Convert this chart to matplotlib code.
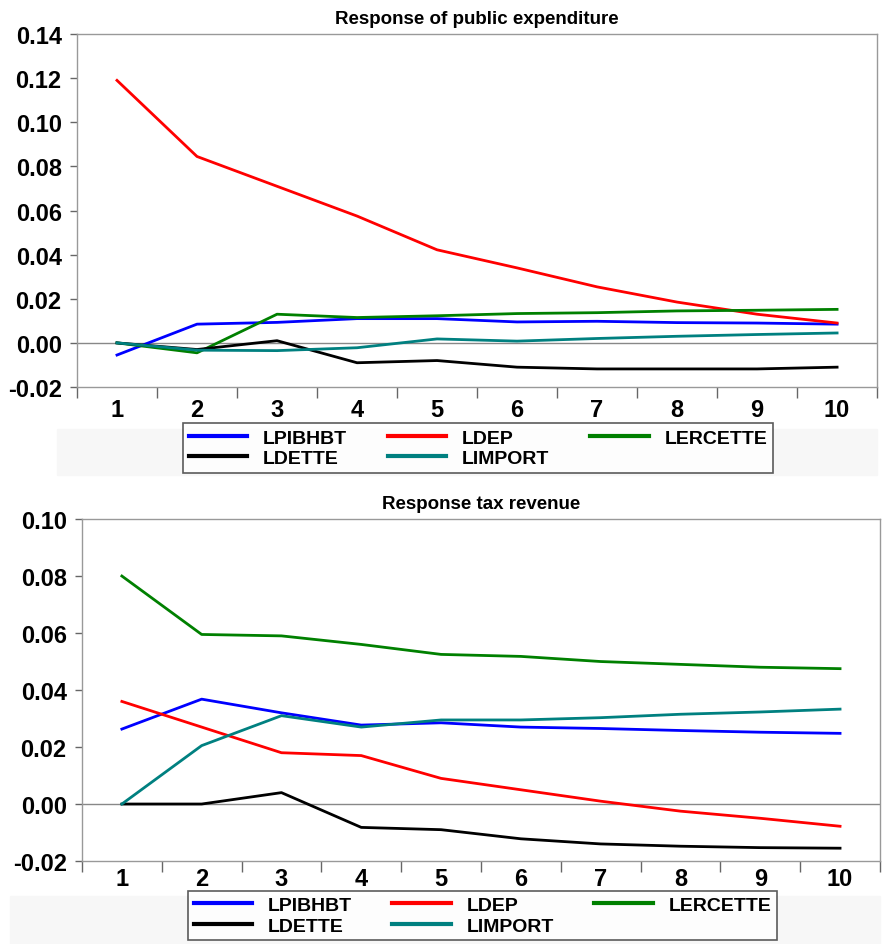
import matplotlib.pyplot as plt
from matplotlib.patches import Rectangle
from matplotlib.font_manager import findfont, FontProperties

periods = [1, 2, 3, 4, 5, 6, 7, 8, 9, 10]
names = ["LPIBHBT", "LDEP", "LERCETTE", "LDETTE", "LIMPORT"]
colors = ["#0000ff", "#ff0000", "#008000", "#000000", "#008080"]

# Response of public expenditure
exp_lpibhbt = [-0.0055, 0.0085, 0.0093, 0.011, 0.011, 0.0095, 0.0098, 0.0092, 0.009, 0.0085]
exp_ldep = [0.119, 0.0845, 0.071, 0.0575, 0.0422, 0.034, 0.0254, 0.0185, 0.013, 0.009]
exp_lercette = [0.0, -0.0045, 0.013, 0.0115, 0.0123, 0.0133, 0.0137, 0.0145, 0.0148, 0.0152]
exp_ldette = [0.0, -0.003, 0.001, -0.009, -0.008, -0.011, -0.0118, -0.0118, -0.0118, -0.011]
exp_limport = [0.0, -0.0033, -0.0035, -0.0022, 0.0018, 0.0008, 0.002, 0.003, 0.0038, 0.0045]

# Response tax revenue
tax_lpibhbt = [0.0263, 0.0368, 0.032, 0.0277, 0.0285, 0.027, 0.0265, 0.0258, 0.0252, 0.0248]
tax_ldep = [0.036, 0.027, 0.018, 0.017, 0.009, 0.005, 0.001, -0.0025, -0.005, -0.0078]
tax_lercette = [0.080, 0.0595, 0.059, 0.056, 0.0525, 0.0518, 0.050, 0.049, 0.048, 0.0475]
tax_ldette = [0.0, 0.0, 0.004, -0.0082, -0.009, -0.0122, -0.014, -0.0148, -0.0153, -0.0155]
tax_limport = [0.0, 0.0205, 0.031, 0.027, 0.0295, 0.0295, 0.0303, 0.0315, 0.0323, 0.0333]

exp_ticks = [-0.02, 0.00, 0.02, 0.04, 0.06, 0.08, 0.10, 0.12, 0.14]
tax_ticks = [-0.02, 0.00, 0.02, 0.04, 0.06, 0.08, 0.10]

# narrow bold font like the original, if available
fam = "Liberation Sans Narrow"
if "Narrow" not in findfont(FontProperties(family=fam)):
    fam = "Liberation Sans"
plt.rcParams["font.family"] = [fam, "DejaVu Sans"]
plt.rcParams["font.weight"] = "bold"

fig = plt.figure(figsize=(8.91, 9.45), dpi=100)


def draw_panel(rect, series, yticks, title, legend_rect, strip_rect, xpad):
    ax = fig.add_axes(rect)
    ax.axhline(0, color="#888888", lw=1.0, zorder=1)
    for vals, name, c in zip(series, names, colors):
        ax.plot(periods, vals, color=c, lw=2.0, label=name, zorder=3)
    ax.set_xlim(0.5, 10.5)
    ax.set_ylim(yticks[0], yticks[-1])
    ax.set_yticks(yticks)
    ax.set_yticklabels([f"{t:.2f}" for t in yticks], fontsize=17, fontweight="bold")
    ax.set_xticks(periods)
    ax.set_xticklabels([str(p) for p in periods], fontsize=17, fontweight="bold")
    ax.set_xticks([p - 0.5 for p in periods] + [10.5], minor=True)
    ax.tick_params(axis="x", which="major", length=0, pad=xpad)
    ax.tick_params(axis="x", which="minor", length=8, width=1, color="#666666")
    ax.tick_params(axis="y", length=5, width=1, color="#666666", pad=6)
    for s in ax.spines.values():
        s.set_color("#999999")
        s.set_linewidth(1.0)
    ax.set_title(title, fontsize=13.5, fontweight="bold", pad=8)

    # faint strip behind the legend
    fig.patches.append(Rectangle(strip_rect[:2], strip_rect[2], strip_rect[3],
                                 transform=fig.transFigure, color="#f7f7f7",
                                 zorder=0))
    h, l = ax.get_legend_handles_labels()
    order = [0, 3, 1, 4, 2]
    leg = fig.legend([h[i] for i in order], [l[i] for i in order], ncol=3,
                     loc="center", bbox_to_anchor=legend_rect,
                     mode="expand", frameon=True, fancybox=False,
                     handlelength=3.0, columnspacing=1.5, handletextpad=0.8,
                     labelspacing=0.15, borderaxespad=0.0, borderpad=0.3,
                     prop={"size": 14, "weight": "bold"})
    leg.get_frame().set_edgecolor("#333333")
    leg.get_frame().set_linewidth(1.2)
    for line in leg.get_lines():
        line.set_linewidth(3.0)
    return ax


draw_panel([0.0864, 0.5894, 0.898, 0.3735],
           [exp_lpibhbt, exp_ldep, exp_lercette, exp_ldette, exp_limport],
           exp_ticks, "Response of public expenditure",
           (183 / 891, 1 - 473 / 945, 590 / 891, 48 / 945),
           (57 / 891, 1 - 476 / 945, 820 / 891, 46 / 945), 8)

draw_panel([0.092, 0.0878, 0.8956, 0.3619],
           [tax_lpibhbt, tax_ldep, tax_lercette, tax_ldette, tax_limport],
           tax_ticks, "Response tax revenue",
           (188 / 891, 1 - 940 / 945, 589 / 891, 47 / 945),
           (10 / 891, 1 - 945 / 945, 870 / 891, 48 / 945), 4)

fig.savefig("out.png", dpi=100)
